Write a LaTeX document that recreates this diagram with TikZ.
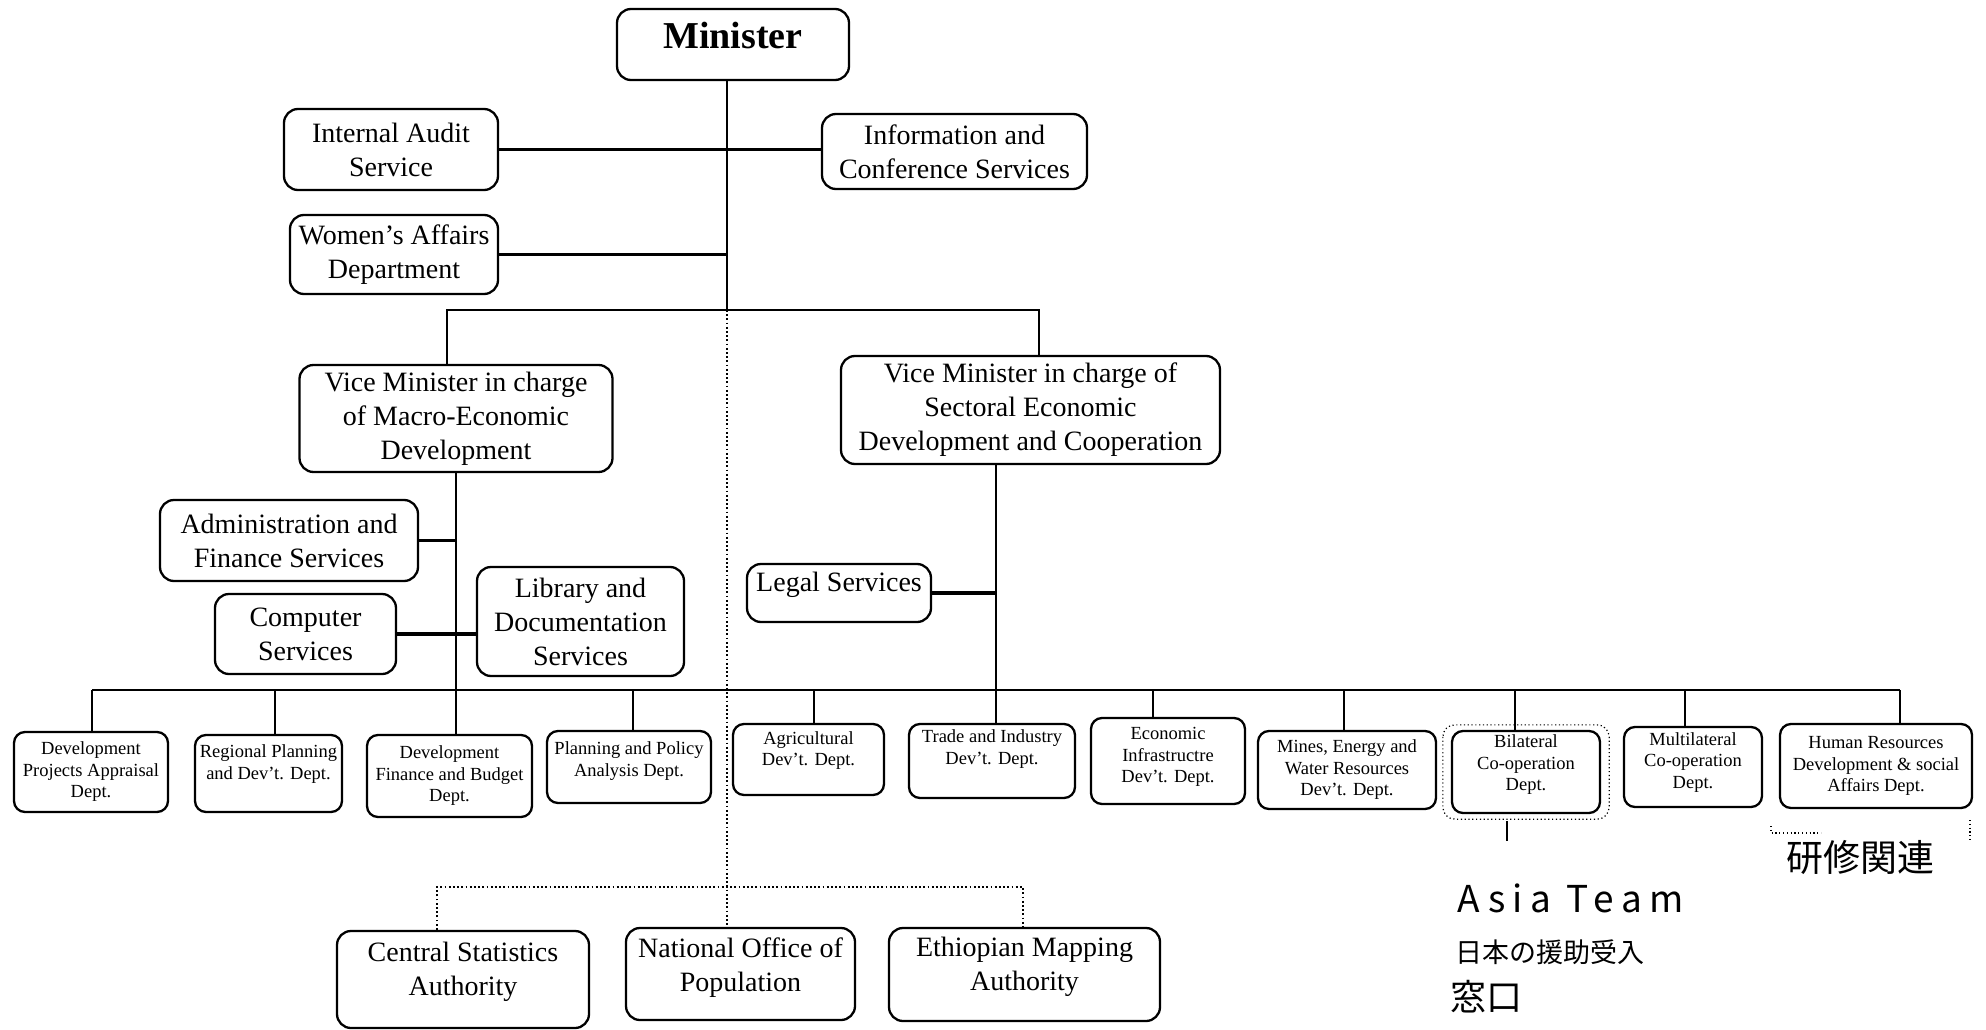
\documentclass[tikz,border=0pt]{standalone}
\usepackage{fontspec}
\setmainfont{Liberation Serif}
\newfontfamily\jpfont{Noto Sans CJK JP}
\newfontfamily\handfont[LetterSpace=20]{Noto Sans CJK JP}
% extra depth below the last line, to lift the text inside its box
\newcommand\lift[1]{\rule[-#1pt]{0pt}{0pt}}
\begin{document}
\begin{tikzpicture}[x=1pt,y=-1pt,
  sz/.style 2 args={minimum width=#1pt,minimum height=#2pt},
  box/.style={draw,line width=2.3pt,rounded corners=14pt,align=center,inner sep=0pt,
    font=\fontsize{28}{34}\selectfont},
  dept/.style={box,rounded corners=11pt,font=\fontsize{18.5}{21.5}\selectfont},
  link/.style={line width=2pt},
  bus/.style={line width=2.8pt},
  side/.style={line width=3.4pt},
  dots/.style={line width=1.8pt,dash pattern=on 1.8pt off 2.4pt},
  pencil/.style={line width=1.2pt,dash pattern=on 1.2pt off 2.6pt},
  hand/.style={inner sep=0pt,anchor=west}]
\useasboundingbox (0,0) rectangle (1986,1030);

% top level
\node[box,sz={232}{71},font=\fontsize{38}{44}\bfseries] (min) at (733,44.5) {Minister\lift{18}};
\node[box,sz={214}{81}] (ias) at (391,149.5) {Internal Audit\\Service};
\node[box,sz={265}{75}] (ics) at (954.5,151.5) {Information and\\Conference Services};
\node[box,sz={208}{79}] (wad) at (394,254.5) {Women's Affairs\\Department};

% vice ministers
\node[box,sz={313}{107}] (vm1) at (456,418.5) {Vice Minister in charge\\of Macro-Economic\\Development};
\node[box,sz={379}{108}] (vm2) at (1030.5,410) {Vice Minister in charge of\\Sectoral Economic\\Development and Cooperation};

% services
\node[box,sz={258}{81}] (afs) at (289,540.5) {Administration and\\Finance Services};
\node[box,sz={181}{80}] (cs) at (305.5,634) {Computer\\Services};
\node[box,sz={207}{109}] (lds) at (580.5,621.5) {Library and\\Documentation\\Services};
\node[box,sz={184}{58}] (ls) at (839,593) {Legal Services\lift{22}};

% departments
\node[dept,sz={154}{80}] (d1) at (91,772) {Development\\Projects Appraisal\\Dept.};
\node[dept,sz={147}{77}] (d2) at (268.5,773.5) {Regional Planning\\and Dev't. Dept.\lift{23}};
\node[dept,sz={165}{82}] (d3) at (449.5,776) {Development\\Finance and Budget\\Dept.};
\node[dept,sz={164}{72}] (d4) at (629,767) {Planning and Policy\\Analysis Dept.\lift{16}};
\node[dept,sz={151}{71}] (d5) at (808.5,759.5) {Agricultural\\Dev't. Dept.\lift{22}};
\node[dept,sz={166}{74}] (d6) at (992,761) {Trade and Industry\\Dev't. Dept.\lift{28}};
\node[dept,sz={154}{86}] (d7) at (1168,761) {Economic\\Infrastructre\\Dev't. Dept.\lift{12}};
\node[dept,sz={178}{78}] (d8) at (1347,770) {Mines, Energy and\\Water Resources\\Dev't. Dept.};
\node[dept,sz={148}{82}] (d9) at (1526,772) {Bilateral\\Co-operation\\Dept.\lift{18}};
\node[dept,sz={138}{80}] (d10) at (1693,767) {Multilateral\\Co-operation\\Dept.\lift{13}};
\node[dept,sz={192}{84}] (d11) at (1876,766) {Human Resources\\Development \& social\\Affairs Dept.};

% authorities
\node[box,sz={252}{97}] (csa) at (463,979.5) {Central Statistics\\Authority\lift{21}};
\node[box,sz={229}{92}] (nop) at (740.5,974) {National Office of\\Population\lift{18}};
\node[box,sz={271}{93}] (ema) at (1024.5,974.5) {Ethiopian Mapping\\Authority\lift{21}};

% junction points
\coordinate (j0) at (727,310);
\coordinate (jv1) at (447,310);
\coordinate (jv2) at (1039,310);
\coordinate (v2) at (996,464);
\coordinate (bl) at (92,690);
\coordinate (br) at (1900,690);
\coordinate (b2) at (275,690);
\coordinate (b4) at (633,690);
\coordinate (b5) at (814,690);
\coordinate (b7) at (1153,690);
\coordinate (b8) at (1344,690);
\coordinate (b9) at (1515,690);
\coordinate (b10) at (1685,690);
\coordinate (a1) at (437,887);
\coordinate (a2) at (727,887);
\coordinate (a3) at (1023,887);

% solid lines
\draw[link] (j0 |- min.south) -- (j0);
\draw[link] (jv1 |- vm1.north) -- (jv1) -- (jv2) -- (jv2 |- vm2.north);
\draw[side] (ias.east) -- (ias.east -| ics.west);
\draw[side] (wad.east) -- (wad.east -| j0);
\draw[link] (vm1.south) -- (vm1.south |- d3.north);
\draw[link] (v2) -- (v2 |- d6.north);
\draw[side] (afs.east) -- (afs.east -| vm1.south);
\draw[side] (cs.east) -- (cs.east -| lds.west);
\draw[side] (ls.east) -- (ls.east -| v2);
\draw[bus] (bl) -- (br);
\draw[link] (bl) -- (bl |- d1.north);
\draw[link] (b2) -- (b2 |- d2.north);
\draw[link] (b4) -- (b4 |- d4.north);
\draw[link] (b5) -- (b5 |- d5.north);
\draw[link] (b7) -- (b7 |- d7.north);
\draw[link] (b8) -- (b8 |- d8.north);
\draw[link] (b9) -- (b9 |- d9.north);
\draw[link] (b10) -- (b10 |- d10.north);
\draw[link] (br) -- (br |- d11.north);

% dotted lines to the authorities
\draw[dots] (j0) -- (a2) -- (a2 |- nop.north);
\draw[dots] (a1 |- csa.north) -- (a1) -- (a3) -- (a3 |- ema.north);

% pencil notes
\draw[pencil,rounded corners=12pt] ([shift={(-8pt,5pt)}]d9.north west) rectangle ([shift={(8pt,-5pt)}]d9.south east);
\coordinate (t0) at (1507,821);
\draw[line width=2pt] (t0) -- ++(0,20);
\coordinate (h1) at (1771,826);
\coordinate (h2) at (1970,820);
\draw[pencil] (h1) -- ++(0,7) -- ++(50,0);
\draw[pencil] (h2) -- ++(0,22);
\node[hand,font=\handfont\fontsize{37}{42}\selectfont] (asia) at (1457,898) {Asia Team};
\node[hand,font=\jpfont\fontsize{27}{32}\selectfont] (jp1) at (1455,952) {日本の援助受入};
\node[hand,font=\jpfont\fontsize{36}{40}\selectfont] (jp2) at (1450,997) {窓口};
\node[hand,font=\jpfont\fontsize{37}{40}\selectfont] (jp3) at (1786,857) {研修関連};
\end{tikzpicture}
\end{document}
